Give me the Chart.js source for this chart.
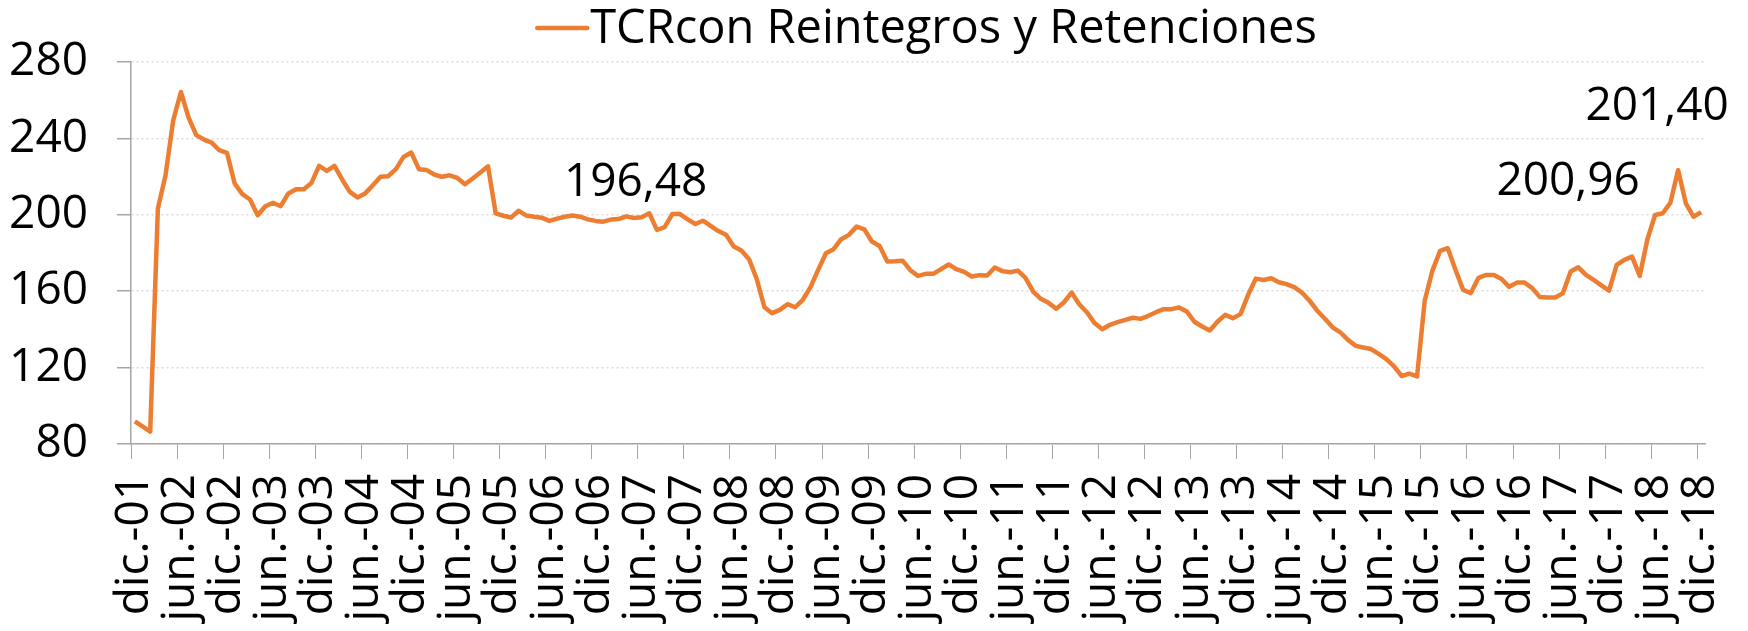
<!DOCTYPE html>
<html>
<head>
<meta charset="utf-8">
<script src="https://cdn.jsdelivr.net/npm/chart.js@4.4.1/dist/chart.umd.min.js"></script>
<style>
    html, body { margin: 0; padding: 0; background: #fff; }
</style>
</head>
<body>
<canvas id="tcrChart" width="1748" height="631"></canvas>
<script>
// series: TCR con reintegros y retenciones, mensual dic-01 .. dic-18
const tcr2001 = [91.8];
const tcr2002 = [89.2, 86.5, 203.3, 220.7, 249.5, 264.3, 250.9, 241.7, 239.4, 237.8, 233.8, 232.4];
const tcr2003 = [216.4, 210.8, 208.0, 199.8, 204.5, 206.3, 204.5, 211.2, 213.4, 213.4, 216.7, 225.6];
const tcr2004 = [223.0, 225.6, 218.5, 212.0, 209.1, 211.2, 215.5, 219.9, 220.2, 223.9, 230.3, 232.6];
const tcr2005 = [223.9, 223.4, 221.1, 219.9, 220.7, 219.3, 216.0, 219.0, 222.1, 225.4, 200.7, 199.5];
const tcr2006 = [198.6, 202.1, 199.6, 199.0, 198.5, 196.8, 198.0, 199.0, 199.6, 199.0, 197.6, 196.8];
const tcr2007 = [196.4, 197.5, 197.8, 199.2, 198.3, 198.7, 200.8, 192.1, 193.5, 200.4, 200.4, 197.6];
const tcr2008 = [195.2, 196.9, 194.2, 191.5, 189.5, 183.4, 181.3, 176.7, 166.3, 151.6, 148.5, 150.2];
const tcr2009 = [153.2, 151.6, 155.5, 162.1, 171.2, 179.9, 182.0, 187.2, 189.5, 193.8, 192.4, 186.0];
const tcr2010 = [183.7, 175.5, 175.7, 176.0, 171.0, 168.0, 169.1, 169.1, 171.6, 174.0, 171.5, 170.1];
const tcr2011 = [167.7, 168.4, 168.2, 172.4, 170.5, 169.9, 170.8, 167.0, 159.8, 156.0, 153.9, 150.8];
const tcr2012 = [154.1, 159.3, 153.2, 149.0, 143.3, 140.1, 142.4, 143.8, 145.0, 146.1, 145.5, 147.1];
const tcr2013 = [149.0, 150.6, 150.6, 151.5, 149.4, 144.0, 141.5, 139.4, 144.0, 147.6, 145.9, 148.0];
const tcr2014 = [158.1, 166.6, 165.9, 166.8, 164.7, 163.7, 162.1, 159.3, 155.0, 149.8, 145.6, 141.1];
const tcr2015 = [138.5, 134.5, 131.4, 130.5, 129.7, 127.2, 124.4, 120.6, 115.6, 116.8, 115.4, 155.1];
const tcr2016 = [170.8, 181.1, 182.5, 171.2, 160.7, 159.0, 167.0, 168.5, 168.5, 166.4, 162.3, 164.5];
const tcr2017 = [164.5, 161.6, 156.9, 156.7, 156.7, 159.0, 170.3, 172.5, 168.5, 165.9, 163.1, 160.3];
const tcr2018 = [173.8, 176.4, 178.1, 168.0, 187.2, 199.9, 200.8, 206.4, 223.4, 206.0, 199.0, 201.4];

const meses = ['ene.', 'feb.', 'mar.', 'abr.', 'may.', 'jun.', 'jul.', 'ago.', 'sep.', 'oct.', 'nov.', 'dic.'];
const anios = ['02', '03', '04', '05', '06', '07', '08', '09', '10', '11', '12', '13', '14', '15', '16', '17', '18'];
const yTicks = [80, 120, 160, 200, 240, 280];

const nombreSerie = 'TCRcon Reintegros y Retenciones';
// rótulos de valores: texto, índice del mes y valor
const rotulos = [
    { texto: '196,48', indice: 66, valor: 196.48 },
    { texto: '200,96', indice: 198, valor: 200.96 },
    { texto: '201,40', indice: 204, valor: 201.40 }
];

const categorias = ['dic.-01'];
anios.forEach(a => meses.forEach(m => categorias.push(m + '-' + a)));

const tcr = [].concat(tcr2001, tcr2002, tcr2003, tcr2004, tcr2005, tcr2006, tcr2007, tcr2008,
    tcr2009, tcr2010, tcr2011, tcr2012, tcr2013, tcr2014, tcr2015, tcr2016, tcr2017, tcr2018);

const naranja = '#ED7D31';
const gris = '#a6a6a6';
const fuente = '"Open Sans", "DejaVu Sans", sans-serif';
const tamFuente = 46;

// desplazamientos de los rótulos respecto de su punto (px)
const offsetsRotulos = [[-6, -26], [-87, -18], [-44, -92]];

const leyendaPlugin = {
    id: 'leyenda',
    afterDraw(chart) {
        const ctx = chart.ctx;
        const area = chart.chartArea;
        ctx.save();
        ctx.font = '47px ' + fuente;
        const w = ctx.measureText(nombreSerie).width;
        const largo = 54, gap = 1;
        const x0 = (area.left + area.right) / 2 - (largo + gap + w) / 2 + 8;
        ctx.strokeStyle = naranja;
        ctx.lineWidth = 4.5;
        ctx.lineCap = 'round';
        ctx.beginPath();
        ctx.moveTo(x0 + 2, 28);
        ctx.lineTo(x0 + largo - 2, 28);
        ctx.stroke();
        ctx.fillStyle = '#000';
        ctx.textBaseline = 'alphabetic';
        ctx.fillText(nombreSerie, x0 + largo + gap, 43);
        ctx.restore();
    }
};

const rotulosPlugin = {
    id: 'rotulos',
    afterDatasetsDraw(chart) {
        const ctx = chart.ctx;
        const x = chart.scales.x;
        const y = chart.scales.y;
        ctx.save();
        ctx.font = tamFuente + 'px ' + fuente;
        ctx.fillStyle = '#000';
        ctx.textAlign = 'center';
        ctx.textBaseline = 'alphabetic';
        rotulos.forEach((r, i) => {
            const px = x.getPixelForValue(r.indice) + offsetsRotulos[i][0];
            const py = y.getPixelForValue(r.valor) + offsetsRotulos[i][1];
            ctx.fillText(r.texto, px, py);
        });
        ctx.restore();
    }
};

const ctx = document.getElementById('tcrChart').getContext('2d');
const tcrChart = new Chart(ctx, {
    type: 'line',
    data: {
        labels: categorias,
        datasets: [{
            label: nombreSerie,
            data: tcr,
            borderColor: naranja,
            backgroundColor: naranja,
            borderWidth: 4.5,
            borderJoinStyle: 'round',
            pointRadius: 0,
            tension: 0,
            fill: false
        }]
    },
    options: {
        responsive: false,
        animation: false,
        layout: {
            padding: { top: 62, right: 43, bottom: 0, left: 0 }
        },
        plugins: {
            legend: { display: false },
            tooltip: { enabled: false }
        },
        scales: {
            x: {
                offset: true,
                grid: {
                    offset: true,
                    drawOnChartArea: false,
                    tickLength: 15,
                    tickColor: function(c) {
                        return (c.index !== undefined && c.index % 6 === 0) ? gris : 'rgba(0,0,0,0)';
                    }
                },
                border: { color: gris, width: 1.5 },
                ticks: {
                    autoSkip: false,
                    minRotation: 90,
                    maxRotation: 90,
                    padding: 15,
                    color: '#000',
                    font: { family: fuente, size: tamFuente },
                    callback: function(value, index) {
                        return index % 6 === 0 ? categorias[index] : '';
                    }
                },
                afterFit: function(scale) {
                    scale.height = 187;
                    scale.paddingLeft = 0;
                    scale.paddingRight = 0;
                }
            },
            y: {
                min: yTicks[0],
                max: yTicks[yTicks.length - 1],
                grid: {
                    color: '#d9d9d9',
                    lineWidth: 1.5,
                    tickLength: 14,
                    tickColor: gris,
                    tickWidth: 1.5
                },
                border: { color: gris, width: 1.5, dash: [2, 3] },
                ticks: {
                    stepSize: 40,
                    padding: 29,
                    color: '#000',
                    font: { family: fuente, size: tamFuente }
                },
                afterFit: function(scale) {
                    scale.width = 131;
                }
            }
        }
    },
    plugins: [leyendaPlugin, rotulosPlugin]
});
</script>
</body>
</html>
